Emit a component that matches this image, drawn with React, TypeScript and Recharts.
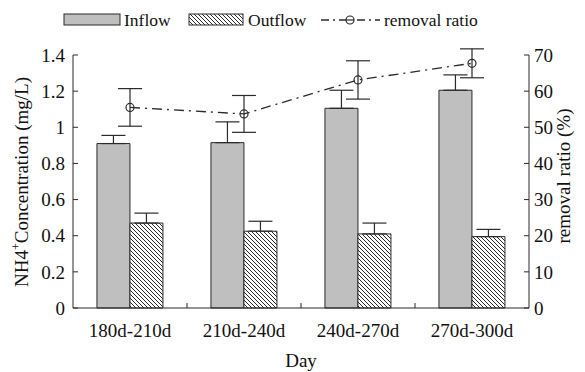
import { ComposedChart, Bar, Line, XAxis, YAxis, ErrorBar } from 'recharts'

const days = ['180d-210d', '210d-240d', '240d-270d', '270d-300d']
const inflow = [0.91, 0.915, 1.105, 1.205]
const inflowErr = [0.045, 0.115, 0.1, 0.085]
const outflow = [0.47, 0.425, 0.41, 0.395]
const outflowErr = [0.055, 0.055, 0.06, 0.04]
const removal = [55.5, 53.7, 63.1, 67.7]
const removalErr = [5.2, 5.1, 5.3, 4]
const leftTicks = [0, 0.2, 0.4, 0.6, 0.8, 1, 1.2, 1.4]
const rightTicks = [0, 10, 20, 30, 40, 50, 60, 70]

const data = days.map((d, i) => ({
  day: d,
  inflow: inflow[i],
  inflowErr: [0, inflowErr[i]],
  outflow: outflow[i],
  outflowErr: [0, outflowErr[i]],
  removal: removal[i],
  removalErr: removalErr[i],
}))

const W = 585
const H = 372
const LEFT = 73
const RIGHT = 56
const TOP = 55
const XH = 64
const FONT = 'Liberation Serif'
const INK = '#2b2b2b'
const TXT = '#111'
const band = (W - LEFT - RIGHT) / days.length

function DayTick(props: any) {
  const { x, y, payload, index } = props
  return (
    <g>
      <text x={x} y={y + 16} dy="0.71em" textAnchor="middle" fontSize={19} style={{ fontFamily: FONT }} fill={TXT}>
        {payload.value}
      </text>
      {index < days.length - 1 && (
        <line x1={x + band / 2} x2={x + band / 2} y1={y} y2={y - 5} stroke={INK} />
      )}
    </g>
  )
}

function Legend() {
  const ty = 26
  const t = { fontSize: 17.5, fill: TXT, style: { fontFamily: FONT } }
  return (
    <svg width={W} height={40} style={{ position: 'absolute', left: 0, top: 0 }}>
      <defs>
        <pattern id="hatchL" patternUnits="userSpaceOnUse" width={4} height={4}>
          <rect width={4} height={4} fill="#fff" />
          <path d="M-1,-1 L5,5 M3,-1 L5,1 M-1,3 L1,5" stroke="#111" strokeWidth={0.9} />
        </pattern>
      </defs>
      <rect x={64} y={14} width={56} height={11} fill="#bfbfbf" stroke={INK} />
      <text x={124} y={ty} {...t}>Inflow</text>
      <rect x={189} y={14} width={54} height={11} fill="url(#hatchL)" stroke={INK} />
      <text x={248} y={ty} {...t}>Outflow</text>
      <line x1={321} x2={380} y1={20} y2={20} stroke={INK} strokeWidth={1.3} strokeDasharray="8 4 2 4" />
      <circle cx={350} cy={20} r={4} fill="#fff" stroke={INK} strokeWidth={1.2} />
      <line x1={346} x2={354} y1={20} y2={20} stroke={INK} strokeWidth={1.2} />
      <text x={384} y={ty} {...t}>removal ratio</text>
    </svg>
  )
}

function LeftTitle() {
  return (
    <text
      x={24}
      y={182}
      transform="rotate(-90 24 182)"
      textAnchor="middle"
      dominantBaseline="middle"
      fontSize={19}
      style={{ fontFamily: FONT }}
      fill={TXT}
    >
      NH4<tspan baselineShift="super" fontSize={12}>+</tspan>Concentration (mg/L)
    </text>
  )
}

function RightTitle() {
  return (
    <text
      x={566}
      y={176}
      transform="rotate(-90 566 176)"
      textAnchor="middle"
      dominantBaseline="middle"
      fontSize={19}
      style={{ fontFamily: FONT }}
      fill={TXT}
    >
      removal ratio (%)
    </text>
  )
}

export default function App() {
  const tickStyle = { fontSize: 19, fill: TXT, style: { fontFamily: FONT } }
  return (
    <div style={{ position: 'absolute', left: 0, top: 0, width: W, height: H, background: '#fff' }}>
      <Legend />
      <ComposedChart
        width={W}
        height={H}
        data={data}
        margin={{ top: TOP, right: 0, bottom: 0, left: 0 }}
        barCategoryGap="21%"
        barGap={0}
        style={{ fontFamily: FONT }}
      >
        <defs>
          <pattern id="hatch" patternUnits="userSpaceOnUse" width={4} height={4}>
            <rect width={4} height={4} fill="#fff" />
            <path d="M-1,-1 L5,5 M3,-1 L5,1 M-1,3 L1,5" stroke="#111" strokeWidth={0.9} />
          </pattern>
        </defs>
        <XAxis
          dataKey="day"
          height={XH}
          tickSize={0}
          tickMargin={0}
          tickLine={false}
          tick={<DayTick />}
          axisLine={{ stroke: INK }}
          interval={0}
          label={{ value: 'Day', position: 'insideBottom', offset: 5, fontSize: 19, fill: TXT, style: { fontFamily: FONT } }}
        />
        <YAxis
          yAxisId="left"
          width={LEFT}
          domain={[0, 1.4]}
          ticks={leftTicks}
          tickSize={-5}
          tickMargin={13}
          tick={tickStyle}
          tickLine={{ stroke: INK }}
          axisLine={{ stroke: INK }}
          label={{ content: () => <LeftTitle /> }}
        />
        <YAxis
          yAxisId="right"
          orientation="right"
          width={RIGHT}
          domain={[0, 70]}
          allowDataOverflow
          ticks={rightTicks}
          tickSize={-5}
          tickMargin={10}
          tick={{ ...tickStyle, textAnchor: 'start' }}
          tickLine={{ stroke: INK }}
          axisLine={{ stroke: INK }}
          label={{ content: () => <RightTitle /> }}
        />
        <Bar yAxisId="left" dataKey="inflow" fill="#bfbfbf" stroke={INK} strokeWidth={1} isAnimationActive={false}>
          <ErrorBar dataKey="inflowErr" width={12} stroke={INK} strokeWidth={1.2} direction="y" />
        </Bar>
        <Bar yAxisId="left" dataKey="outflow" fill="url(#hatch)" stroke={INK} strokeWidth={1} isAnimationActive={false}>
          <ErrorBar dataKey="outflowErr" width={12} stroke={INK} strokeWidth={1.2} direction="y" />
        </Bar>
        <Line
          yAxisId="right"
          dataKey="removal"
          stroke={INK}
          strokeWidth={1.3}
          strokeDasharray="10 5 2 5"
          dot={{ r: 4, fill: 'none', stroke: INK, strokeWidth: 1.2, strokeDasharray: '' }}
          isAnimationActive={false}
        >
          <ErrorBar dataKey="removalErr" width={12} stroke={INK} strokeWidth={1.2} direction="y" />
        </Line>
      </ComposedChart>
    </div>
  )
}
